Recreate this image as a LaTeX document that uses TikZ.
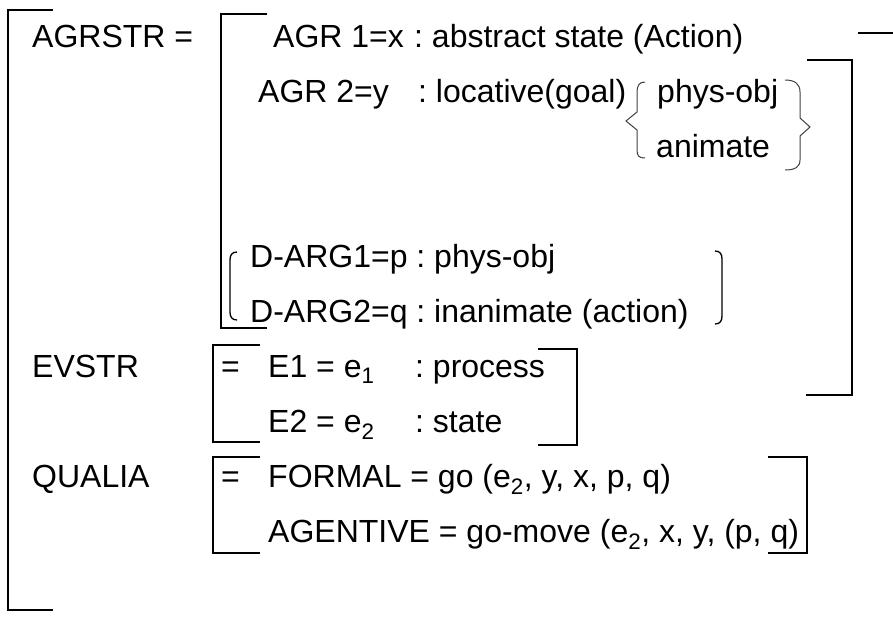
\documentclass[tikz,border=0pt]{standalone}
\usepackage{fontspec}
\setmainfont{Liberation Sans}
\frenchspacing
\begin{document}
\begin{tikzpicture}[x=1pt,y=-1pt,
  txt/.style={anchor=base west, inner sep=0pt, font=\fontsize{32}{38}\selectfont\frenchspacing},
  brk/.style={line width=2pt, line join=miter},
  brc/.style={line width=1pt, draw=black!75},
  parn/.style={line width=1.3pt}]
\useasboundingbox (0,0) rectangle (893,622);
% outer bracket
\draw[brk] (53,10) -- (8,10) -- (8,610) -- (53,610);
% stray line top right
\draw[brk] (858,33) -- (893,33);
% AGRSTR brackets
\draw[brk] (267,14) -- (221,14) -- (221,328) -- (267,328);
\draw[brk] (807,60) -- (852,60) -- (852,395) -- (806,395);
% EVSTR brackets
\draw[brk] (260,345) -- (213,345) -- (213,442) -- (260,442);
\draw[brk] (538,349) -- (577,349) -- (577,445) -- (538,445);
% QUALIA brackets
\draw[brk] (260,457) -- (213,457) -- (213,553) -- (260,553);
\draw[brk] (768,457) -- (807,457) -- (807,553) -- (768,553);
% braces
\draw[brc] (645,82) .. controls (639,82) and (637,86) .. (637,92) -- (637,112) -- (626,121) -- (637,130) -- (637,150) .. controls (637,156) and (639,158) .. (645,158);
\draw[brc] (785,80) .. controls (795,80) and (800,84) .. (800,92) -- (800,118) -- (810,127) -- (800,136) -- (800,160) .. controls (800,167) and (795,170) .. (785,170);
% D-ARG parentheses
\draw[parn] (237,252) .. controls (232,252) and (230,255) .. (230,260) -- (230,312) .. controls (230,317) and (232,320) .. (237,320);
\draw[parn] (715,251) .. controls (720,251) and (722,254) .. (722,259) -- (722,316) .. controls (722,321) and (720,324) .. (715,324);
% texts
\node[txt] (agrstr) at (32,47) {AGRSTR =};
\node[txt] (agr1) at (273,47) {AGR 1=x};
\node[txt] (agr1v) at (414,47) {: abstract state (Action)};
\node[txt] (agr2) at (258,102) {AGR 2=y};
\node[txt] (agr2v) at (418,102) {: locative(goal)};
\node[txt] (phys) at (657,102) {phys-obj};
\node[txt] (anim) at (656,157) {animate};
\node[txt] (darg1) at (250,267) {D-ARG1=p : phys-obj};
\node[txt] (darg2) at (250,322) {D-ARG2=q : inanimate (action)};
\node[txt] (evstr) at (32,377) {EVSTR};
\node[txt] (eqa) at (221,377) {=};
\node[txt] (e1) at (268,377) {E1 = e\textsubscript{1}};
\node[txt] (e1v) at (415,377) {: process};
\node[txt] (e2) at (268,432) {E2 = e\textsubscript{2}};
\node[txt] (e2v) at (415,432) {: state};
\node[txt] (qualia) at (32,487) {QUALIA};
\node[txt] (eqb) at (221,487) {=};
\node[txt] (formal) at (268,487) {FORMAL = go (e\textsubscript{2}, y, x, p, q)};
\node[txt] (agent) at (268,542) {AGENTIVE = go-move (e\textsubscript{2}, x, y, (p, q)};
\end{tikzpicture}
\end{document}
